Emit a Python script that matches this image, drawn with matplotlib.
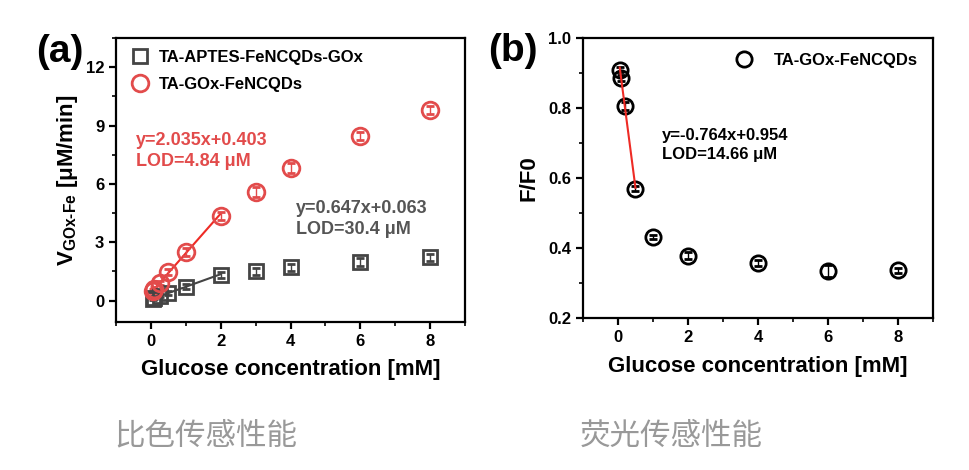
import matplotlib
matplotlib.use("Agg")
import matplotlib.pyplot as plt
import numpy as np
from matplotlib.ticker import MultipleLocator

plt.rcParams['font.family'] = ['Liberation Sans', 'DejaVu Sans']
plt.rcParams['font.weight'] = 'bold'
plt.rcParams['mathtext.fontset'] = 'custom'
plt.rcParams['mathtext.rm'] = 'Liberation Sans:bold'
plt.rcParams['mathtext.bf'] = 'Liberation Sans:bold'
plt.rcParams['mathtext.default'] = 'rm'

# (a) 比色 data
conc_a = [0.05, 0.1, 0.25, 0.5, 1, 2, 3, 4, 6, 8]
v_aptes = [0.1, 0.15, 0.25, 0.38, 0.72, 1.32, 1.52, 1.72, 1.98, 2.22]
v_aptes_err = [0.08, 0.08, 0.08, 0.1, 0.12, 0.15, 0.18, 0.18, 0.2, 0.2]
v_gox = [0.5, 0.62, 0.9, 1.45, 2.5, 4.35, 5.6, 6.8, 8.45, 9.8]
v_gox_err = [0.1, 0.1, 0.12, 0.15, 0.2, 0.2, 0.25, 0.25, 0.2, 0.2]
fit_aptes = (0.647, 0.063)
fit_gox = (2.035, 0.403)
fit_range_a = (0.05, 2)

# (b) 荧光 data
conc_b = [0.05, 0.1, 0.2, 0.5, 1, 2, 4, 6, 8]
ff0 = [0.91, 0.885, 0.805, 0.57, 0.432, 0.378, 0.357, 0.334, 0.336]
ff0_err = [0.008, 0.008, 0.012, 0.006, 0.006, 0.01, 0.008, 0.018, 0.006]
fit_b = (-0.764, 0.954)
fit_range_b = (0.05, 0.5)

gray = '#444444'
red = '#e24b4b'
redline = '#ee2b25'

fig = plt.figure(figsize=(9.7, 4.7), dpi=100)
ax1 = fig.add_axes([0.1196, 0.3149, 0.3598, 0.6043])
ax2 = fig.add_axes([0.601, 0.3234, 0.3608, 0.5957])


def style_axes(ax):
    for sp in ax.spines.values():
        sp.set_linewidth(1.6)
        sp.set_color('black')
    ax.tick_params(which='major', direction='out', length=5, width=1.6,
                   labelsize=12, top=False, right=False)
    ax.tick_params(which='minor', direction='out', length=3, width=1.2,
                   top=False, right=False)
    for lab in ax.get_xticklabels() + ax.get_yticklabels():
        lab.set_fontweight('bold')


# ---- (a)
xf = np.array(fit_range_a)
ax1.plot(xf, fit_aptes[0] * xf + fit_aptes[1], color=gray, lw=1.5, zorder=2)
ax1.plot(xf, fit_gox[0] * xf + fit_gox[1], color=redline, lw=1.5, zorder=2)
ax1.errorbar(conc_a, v_aptes, yerr=v_aptes_err, fmt='s', ms=10, mfc='none',
             mec=gray, mew=2, ecolor=gray, elinewidth=1, capsize=3, zorder=3)
ax1.errorbar(conc_a, v_gox, yerr=v_gox_err, fmt='o', ms=12, mfc='none',
             mec=red, mew=2, ecolor=red, elinewidth=1, capsize=3, zorder=3)
h1, = ax1.plot([], [], 's', ms=10, mfc='none', mec=gray, mew=2)
h2, = ax1.plot([], [], 'o', ms=12, mfc='none', mec=red, mew=2)
ax1.legend([h1, h2], ['TA-APTES-FeNCQDs-GOx', 'TA-GOx-FeNCQDs'], loc='upper left',
           frameon=False, prop={'size': 12, 'weight': 'bold'},
           bbox_to_anchor=(-0.012, 1.01), handletextpad=0.3, labelspacing=0.7,
           handlelength=1.6)
ax1.set_xlim(-1, 9)
ax1.set_ylim(-1.1, 13.5)
ax1.xaxis.set_major_locator(MultipleLocator(2))
ax1.xaxis.set_minor_locator(MultipleLocator(1))
ax1.yaxis.set_major_locator(MultipleLocator(3))
ax1.yaxis.set_minor_locator(MultipleLocator(1.5))
ax1.set_xlabel('Glucose concentration [mM]', fontsize=16, fontweight='bold', labelpad=7)
ax1.set_ylabel(r'V$_{\text{GOx-Fe}}$ [μM/min]', fontsize=16, fontweight='bold', labelpad=4)
ax1.text(-0.42, 7.7, 'y=2.035x+0.403\nLOD=4.84 μM',
         color=red, fontsize=13, fontweight='bold', va='center', ha='left', linespacing=1.3)
ax1.text(4.15, 4.2, 'y=0.647x+0.063\nLOD=30.4 μM',
         color='#555555', fontsize=13, fontweight='bold', va='center', ha='left', linespacing=1.3)
style_axes(ax1)

# ---- (b)
xb = np.array(fit_range_b)
ax2.plot(xb, fit_b[0] * xb + fit_b[1], color=redline, lw=1.5, zorder=4)
ax2.errorbar(conc_b, ff0, yerr=ff0_err, fmt='o', ms=11, mfc='none',
             mec='black', mew=2, ecolor='black', elinewidth=1, capsize=3, zorder=3)
h3, = ax2.plot([], [], 'o', ms=11, mfc='none', mec='black', mew=2)
ax2.legend([h3], ['TA-GOx-FeNCQDs'], loc='upper right', frameon=False,
           prop={'size': 12, 'weight': 'bold'}, handletextpad=0.8)
ax2.set_xlim(-1, 9)
ax2.set_ylim(0.2, 1.0)
ax2.xaxis.set_major_locator(MultipleLocator(2))
ax2.xaxis.set_minor_locator(MultipleLocator(1))
ax2.yaxis.set_major_locator(MultipleLocator(0.2))
ax2.yaxis.set_minor_locator(MultipleLocator(0.1))
ax2.yaxis.set_major_formatter(plt.FormatStrFormatter('%.1f'))
ax2.set_xlabel('Glucose concentration [mM]', fontsize=16, fontweight='bold', labelpad=8)
ax2.set_ylabel('F/F0', fontsize=16, fontweight='bold', labelpad=6)
ax2.text(1.25, 0.695, 'y=-0.764x+0.954\nLOD=14.66 μM',
         color='black', fontsize=12, fontweight='bold', va='center', ha='left', linespacing=1.3)
style_axes(ax2)

# panel labels
fig.text(0.062, 0.89, '(a)', fontsize=28, fontweight='bold', ha='center', va='center')
fig.text(0.529, 0.892, '(b)', fontsize=28, fontweight='bold', ha='center', va='center')

# captions
fig.text(0.212, 0.072, '比色传感性能', fontsize=22, color='#999999', ha='center', va='center',
         family=['Noto Sans CJK SC', 'DejaVu Sans'], fontweight='normal')
fig.text(0.692, 0.072, '荧光传感性能', fontsize=22, color='#999999', ha='center', va='center',
         family=['Noto Sans CJK SC', 'DejaVu Sans'], fontweight='normal')

fig.savefig('out.png', dpi=100)
